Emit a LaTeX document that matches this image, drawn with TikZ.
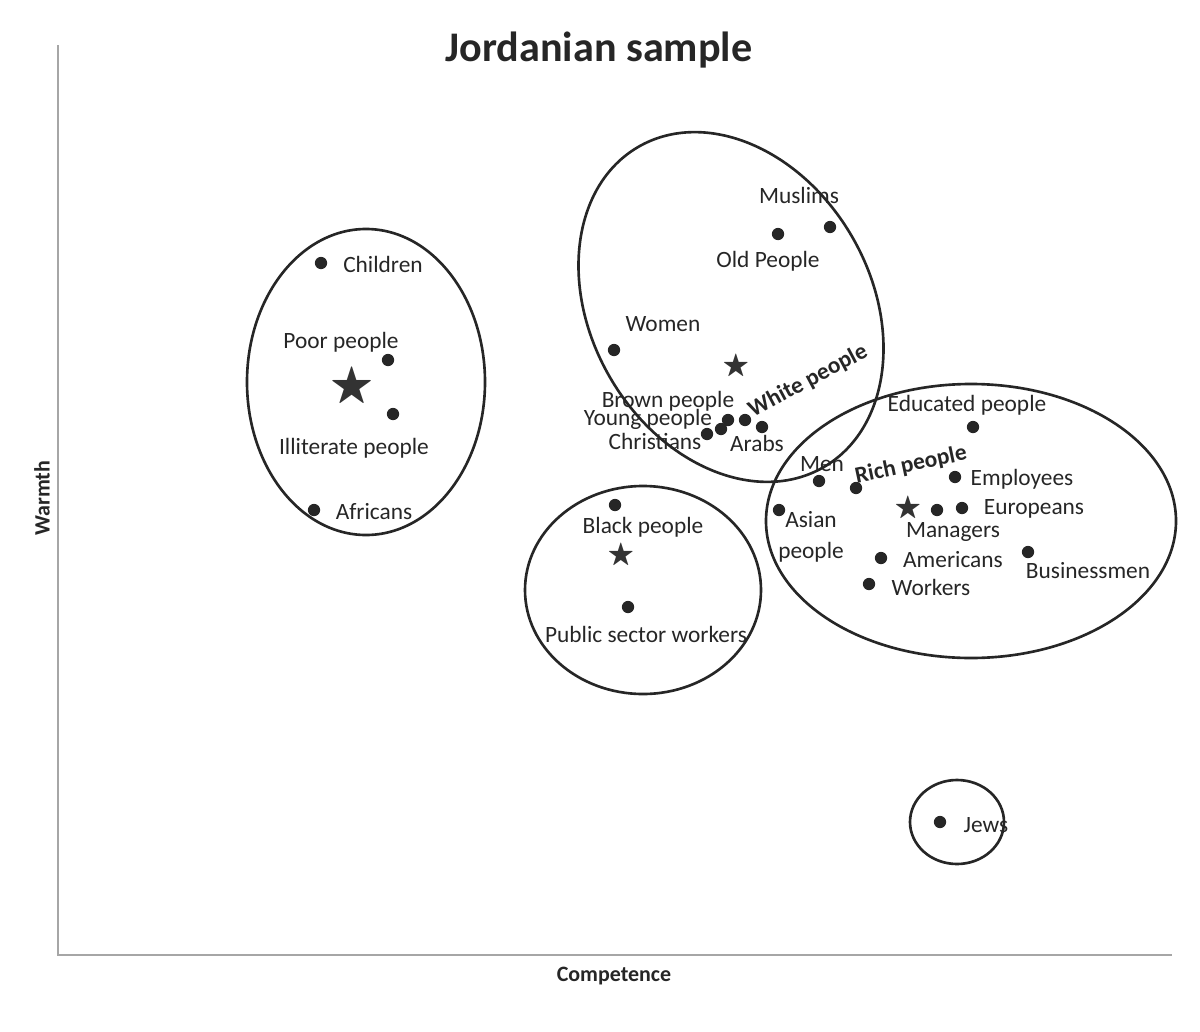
\documentclass[tikz,border=0pt]{standalone}
\usepackage{fontspec}
\setmainfont{Carlito}
\usepackage{amssymb}
\begin{document}
\begin{tikzpicture}[x=0.02cm,y=-0.02cm,
  dot/.style={circle,fill=black!85,inner sep=0pt,minimum size=7pt},
  lab/.style={font=\fontsize{13.3}{15}\selectfont,inner sep=0pt,text=black!85},
  blab/.style={lab,font=\fontsize{13.3}{15}\selectfont\bfseries},
  grp/.style={line width=1.5pt,black!85},
  st/.style={inner sep=0pt,text=black!80}]
\useasboundingbox (0,0) rectangle (1200,1031);
\draw[gray!70,line width=1pt] (58,45) -- (58,955) -- (1172,955);
\node[font=\fontsize{24}{28}\selectfont\bfseries,text=black!85] (title) at (599,50) {Jordanian sample};
\node[font=\fontsize{12.5}{14}\selectfont\bfseries,rotate=90,text=black!85] (warm) at (42,498) {Warmth};
\node[font=\fontsize{12.5}{14}\selectfont\bfseries,text=black!85] (comp) at (614,976) {Competence};
% groups
\draw[grp] (366,382) ellipse [x radius=119,y radius=153];
\draw[grp] (731,307) ellipse [x radius=185,y radius=140,rotate=-60];
\draw[grp] (643,590) ellipse [x radius=118,y radius=104];
\draw[grp] (971,521) ellipse [x radius=205,y radius=137];
\draw[grp] (957,822) ellipse [x radius=47,y radius=42];
% left
\node[dot] (d1) at (321,263) {}; \node[lab] (l1) at (383,264) {Children};
\node[dot] (d2) at (388,360) {}; \node[lab] (l2) at (341,342) {Poor people};
\node[dot] (d3) at (393,414) {}; \node[lab] (l3) at (354,448) {Illiterate people};
\node[dot] (d4) at (314,510) {}; \node[lab] (l4) at (374,512) {Africans};
\node[st,font=\fontsize{26}{26}\selectfont] (s1) at (352,387) {$\bigstar$};
% top middle
\node[dot] (d5) at (830,227) {}; \node[lab] (l5) at (799,195) {Muslims};
\node[dot] (d6) at (778,234) {}; \node[lab] (l6) at (768,261) {Old People};
\node[dot] (d7) at (614,350) {}; \node[lab] (l7) at (663,324) {Women};
\node[st,font=\fontsize{16}{16}\selectfont] (s2) at (736,366) {$\bigstar$};
\node[dot] (d8) at (707,434) {};
\node[dot] (d9) at (721,429) {};
\node[dot] (d10) at (728,420) {};
\node[dot] (d11) at (745,420) {};
\node[dot] (d12) at (762,427) {};
\node[lab] (l8) at (668,401) {Brown people};
\node[lab] (l9) at (648,419) {Young people};
\node[lab] (l10) at (655,441) {Christians};
\node[lab] (l11) at (757,443) {Arabs};
\node[blab,rotate=28] (l12) at (808,381) {White people};
% black people
\node[dot] (d13) at (615,505) {}; \node[lab] (l13) at (643,527) {Black people};
\node[st,font=\fontsize{16}{16}\selectfont] (s3) at (621,555) {$\bigstar$};
\node[dot] (d14) at (628,607) {}; \node[lab] (l14) at (646,634) {Public sector workers};
% right
\node[dot] (d15) at (973,427) {}; \node[lab] (l15) at (967,405) {Educated people};
\node[dot] (d16) at (955,477) {}; \node[lab] (l16) at (1022,479) {Employees};
\node[dot] (d17) at (856,488) {}; \node[blab,rotate=12] (l17) at (911,465) {Rich people};
\node[dot] (d18) at (819,481) {}; \node[lab] (l18) at (822,464) {Men};
\node[dot] (d19) at (779,510) {}; \node[lab,align=center] (l19) at (811,537) {Asian\\[3pt]people};
\node[st,font=\fontsize{16}{16}\selectfont] (s4) at (908,508) {$\bigstar$};
\node[dot] (d20) at (937,510) {};
\node[dot] (d21) at (962,508) {}; \node[lab] (l21) at (1034,509) {Europeans};
\node[lab] (l20) at (953,532) {Managers};
\node[dot] (d22) at (881,558) {}; \node[lab] (l22) at (953,560) {Americans};
\node[dot] (d23) at (1028,552) {}; \node[lab] (l23) at (1088,571) {Businessmen};
\node[dot] (d24) at (869,584) {}; \node[lab] (l24) at (931,587) {Workers};
% jews
\node[dot] (d25) at (940,822) {}; \node[lab] (l25) at (986,825) {Jews};
\end{tikzpicture}
\end{document}
